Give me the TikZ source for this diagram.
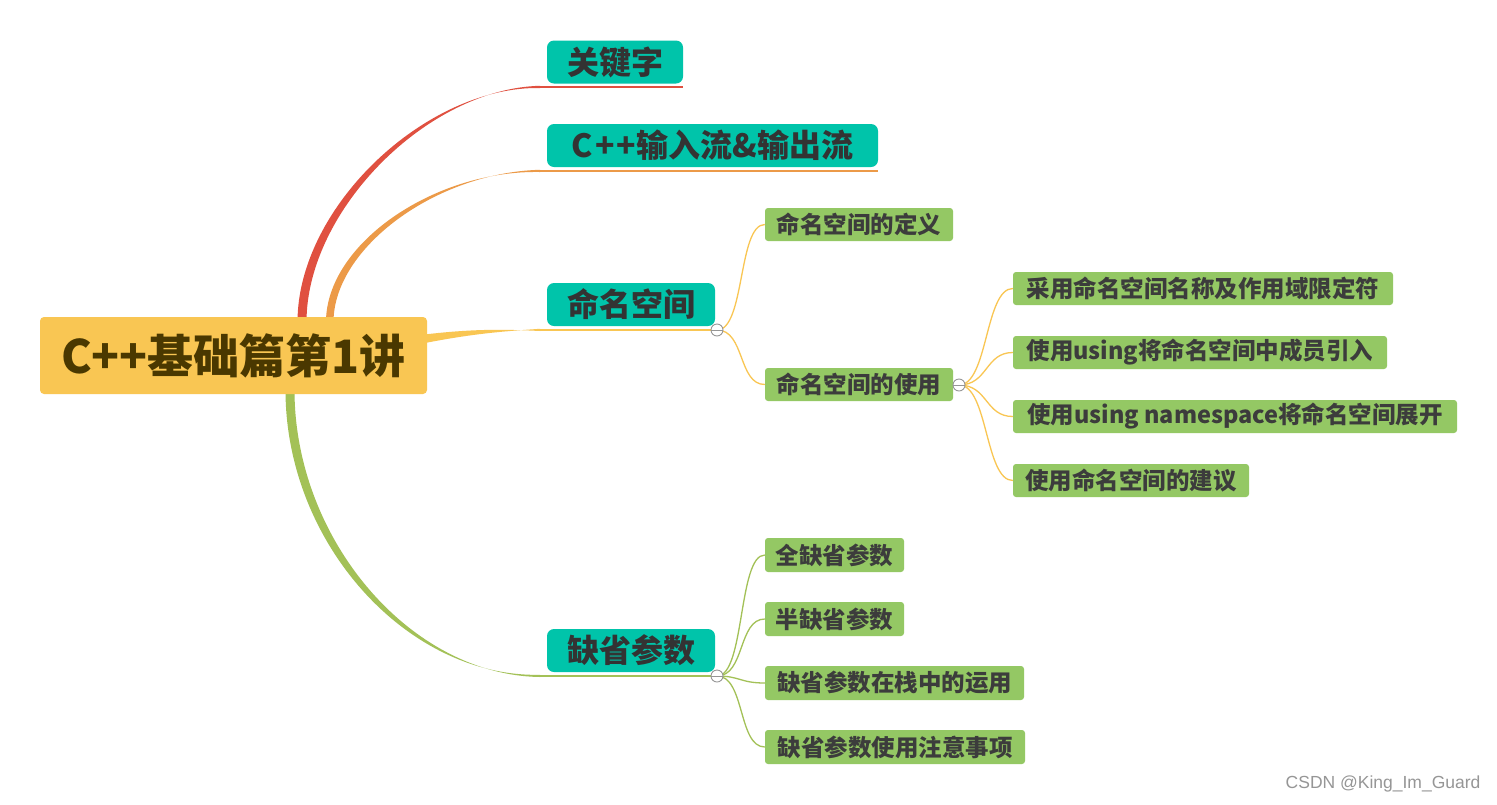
\documentclass[tikz,border=0pt]{standalone}
\usepackage{fontspec}
\newfontfamily\cjk{Noto Sans CJK SC}
\newfontfamily\wmfont{Liberation Sans}
\definecolor{rootc}{RGB}{249,198,83}
\definecolor{roottext}{RGB}{74,56,0}
\definecolor{tealc}{RGB}{0,196,170}
\definecolor{subc}{RGB}{148,200,100}
\definecolor{textc}{RGB}{51,51,51}
\definecolor{subtext}{RGB}{60,60,60}
\definecolor{redc}{RGB}{224,80,64}
\definecolor{orangec}{RGB}{236,154,72}
\definecolor{yellowc}{RGB}{249,198,83}
\definecolor{greenc}{RGB}{163,193,87}
\definecolor{circc}{RGB}{150,150,150}
\tikzset{
  rootbox/.style={fill=rootc, rounded corners=4pt, text=roottext, inner sep=0pt,
    minimum width=387pt, minimum height=77pt, font=\cjk\bfseries\fontsize{46}{46}\selectfont},
  mainbox/.style={fill=tealc, rounded corners=7pt, text=textc, inner sep=0pt,
    minimum height=43pt, font=\cjk\bfseries\fontsize{32}{32}\selectfont},
  subbox/.style={fill=subc, rounded corners=3pt, text=subtext, inner sep=0pt,
    minimum height=33pt, font=\cjk\bfseries\fontsize{23.5}{23.5}\selectfont},
  ylink/.style={draw=yellowc, line width=1.3pt},
  glink/.style={draw=greenc, line width=1.3pt},
  toggle/.style={circle, draw=circc, fill=white, line width=0.9pt, minimum size=12pt, inner sep=0pt,
    path picture={\draw[circc, line width=0.9pt] ([xshift=-6pt]path picture bounding box.center) -- ([xshift=6pt]path picture bounding box.center);}}
}
\begin{document}
\begin{tikzpicture}[x=1pt,y=-1pt]
\useasboundingbox (0,0) rectangle (1497,804);
\fill[white] (0,0) rectangle (1497,804);

% end coordinates of the main branches
\coordinate (kwE) at (540,87);
\coordinate (ioE) at (540,171);
\coordinate (nsE) at (540,330);
\coordinate (dfE) at (540,676);

% tapered main branches
\fill[redc] (297.5,322) .. controls (297.5,207) and (426,86) .. ([yshift=-1pt]kwE) -- ([yshift=1.2pt]kwE) .. controls (428,88.5) and (306.5,210) .. (306.5,322) -- cycle;
\fill[orangec] (326,322) .. controls (326,244) and (434,170) .. ([yshift=-1pt]ioE) -- ([yshift=1.2pt]ioE) .. controls (436,172.5) and (333.5,248) .. (333.5,322) -- cycle;
\fill[yellowc] (420,335) .. controls (470,329) and (500,329) .. ([yshift=-1pt]nsE) -- ([yshift=1.2pt]nsE) .. controls (500,331.5) and (470,334) .. (420,344) -- cycle;
\fill[greenc] (285.5,390) .. controls (285.5,543) and (407,677.5) .. ([yshift=1.2pt]dfE) -- ([yshift=-1pt]dfE) .. controls (410,675) and (294.5,539) .. (294.5,390) -- cycle;

% nodes
\node[rootbox] (root) at (233.5,355.5) {C++基础篇第1讲};
\node[mainbox, minimum width=136pt] (kw) at (615,62) {关键字};
\node[mainbox, minimum width=331pt] (io) at (712.5,145.5) {C\kern2pt+\kern2pt+输入流\&输出流};
\node[mainbox, minimum width=168pt] (ns) at (631,304.5) {命名空间};
\node[mainbox, minimum width=168pt] (df) at (631,650.5) {缺省参数};

\node[subbox, minimum width=188pt] (nsdef) at (859,224.5) {命名空间的定义};
\node[subbox, minimum width=188pt] (nsuse) at (859,384.5) {命名空间的使用};
\node[subbox, minimum width=380pt] (u1) at (1203,288.5) {采用命名空间名称及作用域限定符};
\node[subbox, minimum width=374pt] (u2) at (1200,352.5) {使用using将命名空间中成员引入};
\node[subbox, minimum width=444pt] (u3) at (1235,416.5) {使用using namespace将命名空间展开};
\node[subbox, minimum width=236pt] (u4) at (1131,480.5) {使用命名空间的建议};
\node[subbox, minimum width=139pt, minimum height=34pt] (d1) at (834.5,555) {全缺省参数};
\node[subbox, minimum width=139pt, minimum height=34pt] (d2) at (834.5,619) {半缺省参数};
\node[subbox, minimum width=259pt, minimum height=34pt] (d3) at (894.5,683) {缺省参数在栈中的运用};
\node[subbox, minimum width=260pt, minimum height=34pt] (d4) at (895,747) {缺省参数使用注意事项};

% underlines
\draw[redc, line width=2pt] (kwE) -- (kwE -| kw.east);
\draw[orangec, line width=2pt] (ioE) -- (ioE -| io.east);

% toggles (positions)
\coordinate (tns) at (717,330);
\coordinate (tuse) at (959,385);
\coordinate (tdf) at (717,676);
\draw[yellowc, line width=2pt] (nsE) -- (tns);
\draw[greenc, line width=2pt] (dfE) -- (tdf);

% sub links
\draw[ylink] (tns) .. controls (745,330) and (738,224.5) .. (nsdef.west);
\draw[ylink] (tns) .. controls (745,330) and (738,384.5) .. (nsuse.west);
\draw[ylink] (tuse) .. controls (988,385) and (985,288.5) .. (u1.west);
\draw[ylink] (tuse) .. controls (988,385) and (985,352.5) .. (u2.west);
\draw[ylink] (tuse) .. controls (988,385) and (985,416.5) .. (u3.west);
\draw[ylink] (tuse) .. controls (988,385) and (985,480.5) .. (u4.west);
\draw[glink] (tdf) .. controls (745,676) and (738,555) .. (d1.west);
\draw[glink] (tdf) .. controls (745,676) and (738,619) .. (d2.west);
\draw[glink] (tdf) .. controls (740,676) and (740,683) .. (d3.west);
\draw[glink] (tdf) .. controls (745,676) and (738,747) .. (d4.west);

\node[toggle] (c1) at (tns) {};
\node[toggle] (c2) at (tuse) {};
\node[toggle] (c3) at (tdf) {};

\node[text=circc, font=\wmfont\fontsize{17.5}{17.5}\selectfont, anchor=east] (wm) at (1484,784) {CSDN @King\_Im\_Guard};
\end{tikzpicture}
\end{document}
